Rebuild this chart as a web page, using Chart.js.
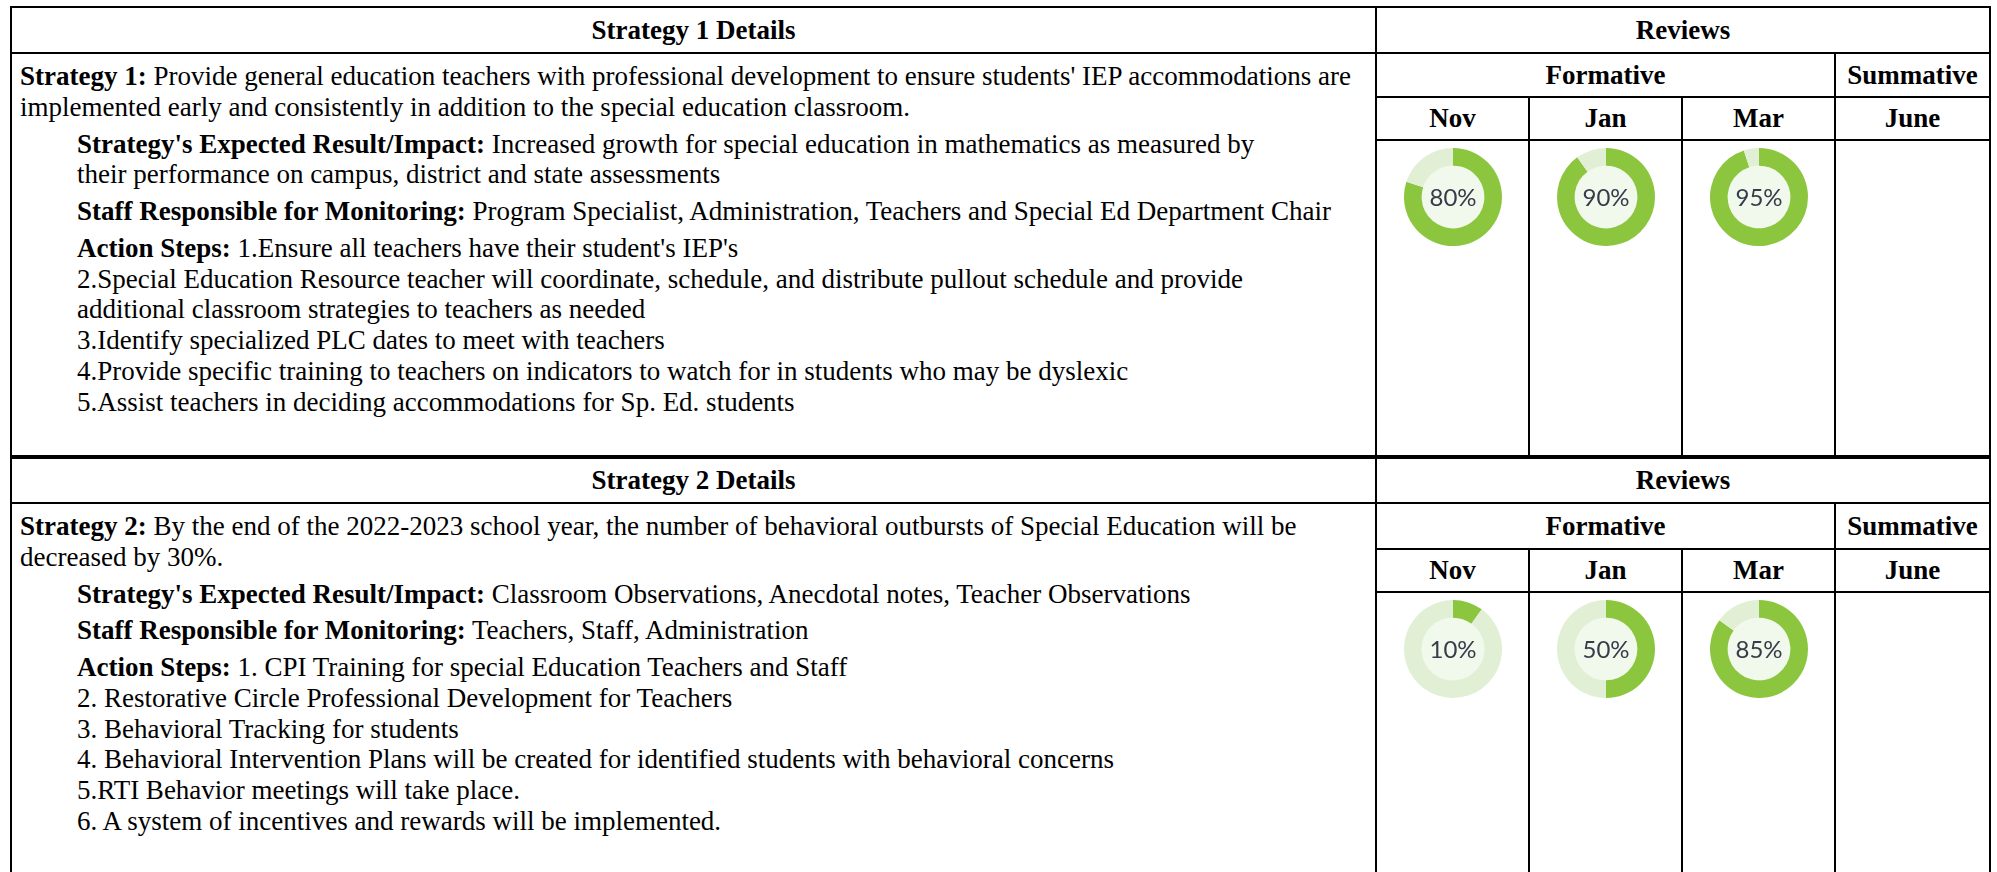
<!DOCTYPE html>
<html>
<head>
<meta charset="utf-8">
<script src="https://cdn.jsdelivr.net/npm/chart.js@4.4.1/dist/chart.umd.min.js"></script>
<style>
    html, body { margin: 0; padding: 0; background: #fff; }
    body { width: 1997px; height: 872px; overflow: hidden; position: relative; }
    .plan { position: absolute; left: 10px; top: 6px; width: 1981px; }
    table { border-collapse: collapse; table-layout: fixed; width: 1981px;
        font-family: "Liberation Serif", "Times New Roman", serif; font-size: 27px; color: #000; }
    td, th { border: 2px solid #000; padding: 0; }
    th { font-weight: bold; text-align: center; vertical-align: middle; }
    .details { vertical-align: top; padding: 7px 0 0 8px; white-space: nowrap; }
    .details p { margin: 0; line-height: 30.75px; }
    .details p.ind { margin: 6px 0 0 57px; }
    .ring { vertical-align: top; }
    .ring canvas { display: block; margin: 7px auto 0; }
</style>
</head>
<body>
<div class="plan">
    <table class="s1">
        <colgroup><col style="width:1365px"><col style="width:153px"><col style="width:153px"><col style="width:153px"><col></colgroup>
        <tr style="height:46px"><th>Strategy 1 Details</th><th colspan="4">Reviews</th></tr>
        <tr style="height:44px">
            <td class="details" rowspan="3">
                <p><b>Strategy 1:</b> Provide general education teachers with professional development to ensure students' IEP accommodations are<br>implemented early and consistently in addition to the special education classroom.</p>
                <p class="ind"><b>Strategy's Expected Result/Impact:</b> Increased growth for special education in mathematics as measured by<br>their performance on campus, district and state assessments</p>
                <p class="ind"><b>Staff Responsible for Monitoring:</b> Program Specialist, Administration, Teachers and Special Ed Department Chair</p>
                <p class="ind"><b>Action Steps:</b> 1.Ensure all teachers have their student's IEP's<br>2.Special Education Resource teacher will coordinate, schedule, and distribute pullout schedule and provide<br>additional classroom strategies to teachers as needed<br>3.Identify specialized PLC dates to meet with teachers<br>4.Provide specific training to teachers on indicators to watch for in students who may be dyslexic<br>5.Assist teachers in deciding accommodations for Sp. Ed. students</p>
            </td>
            <th colspan="3">Formative</th><th>Summative</th>
        </tr>
        <tr style="height:43px"><th>Nov</th><th>Jan</th><th>Mar</th><th>June</th></tr>
        <tr style="height:316px">
            <td class="ring"><canvas id="s1c0" width="98" height="98"></canvas></td>
            <td class="ring"><canvas id="s1c1" width="98" height="98"></canvas></td>
            <td class="ring"><canvas id="s1c2" width="98" height="98"></canvas></td>
            <td class="ring"></td>
        </tr>
    </table>
    <table class="s2">
        <colgroup><col style="width:1365px"><col style="width:153px"><col style="width:153px"><col style="width:153px"><col></colgroup>
        <tr style="height:45px"><th>Strategy 2 Details</th><th colspan="4">Reviews</th></tr>
        <tr style="height:46px">
            <td class="details" rowspan="3">
                <p><b>Strategy 2:</b> By the end of the 2022-2023 school year, the number of behavioral outbursts of Special Education will be<br>decreased by 30%.</p>
                <p class="ind"><b>Strategy's Expected Result/Impact:</b> Classroom Observations, Anecdotal notes, Teacher Observations</p>
                <p class="ind"><b>Staff Responsible for Monitoring:</b> Teachers, Staff, Administration</p>
                <p class="ind"><b>Action Steps:</b> 1. CPI Training for special Education Teachers and Staff<br>2. Restorative Circle Professional Development for Teachers<br>3. Behavioral Tracking for students<br>4. Behavioral Intervention Plans will be created for identified students with behavioral concerns<br>5.RTI Behavior meetings will take place.<br>6. A system of incentives and rewards will be implemented.</p>
            </td>
            <th colspan="3">Formative</th><th>Summative</th>
        </tr>
        <tr style="height:43px"><th>Nov</th><th>Jan</th><th>Mar</th><th>June</th></tr>
        <tr style="height:340px">
            <td class="ring"><canvas id="s2c0" width="98" height="98"></canvas></td>
            <td class="ring"><canvas id="s2c1" width="98" height="98"></canvas></td>
            <td class="ring"><canvas id="s2c2" width="98" height="98"></canvas></td>
            <td class="ring"></td>
        </tr>
    </table>
</div>
<script>
    // formative review progress, percent done
    const reviewMonths = ['Nov', 'Jan', 'Mar'];
    const strategy1Progress = [80, 90, 95];
    const strategy2Progress = [10, 50, 85];

    const doneColor = '#8cc63f';
    const leftColor = '#e1f0d5';
    const innerColor = '#f1f8ec';

    // fill the hole and write the percent in it
    const centerLabel = {
        id: 'centerLabel',
        beforeDatasetsDraw(chart) {
            let arc = chart.getDatasetMeta(0).data[0];
            if(!arc) return;
            let ctx = chart.ctx;
            ctx.save();
            ctx.beginPath();
            ctx.arc(arc.x, arc.y, arc.innerRadius, 0, Math.PI * 2);
            ctx.fillStyle = innerColor;
            ctx.fill();
            ctx.restore();
        },
        afterDatasetsDraw(chart) {
            let arc = chart.getDatasetMeta(0).data[0];
            if(!arc) return;
            let ctx = chart.ctx;
            ctx.save();
            ctx.font = '24px Lato';
            ctx.fillStyle = '#363c4a';
            ctx.textAlign = 'center';
            ctx.textBaseline = 'middle';
            ctx.fillText(chart.data.datasets[0].data[0] + '%', arc.x, arc.y + 1);
            ctx.restore();
        }
    };

    function drawRing(id, month, value){
        let ctx = document.getElementById(id).getContext('2d');
        return new Chart(ctx, {
            type: 'doughnut',
            data: {
                labels: [month, ''],
                datasets: [{
                    data: [value, 100 - value],
                    backgroundColor: [doneColor, leftColor],
                    borderWidth: 0,
                    hoverOffset: 0
                }]
            },
            options: {
                responsive: false,
                animation: false,
                cutout: '64%',
                layout: { padding: 0 },
                events: [],
                plugins: {
                    legend: { display: false },
                    tooltip: { enabled: false }
                }
            },
            plugins: [centerLabel]
        });
    }

    reviewMonths.forEach(function(m, i){
        drawRing('s1c' + i, m, strategy1Progress[i]);
        drawRing('s2c' + i, m, strategy2Progress[i]);
    });
</script>
</body>
</html>
